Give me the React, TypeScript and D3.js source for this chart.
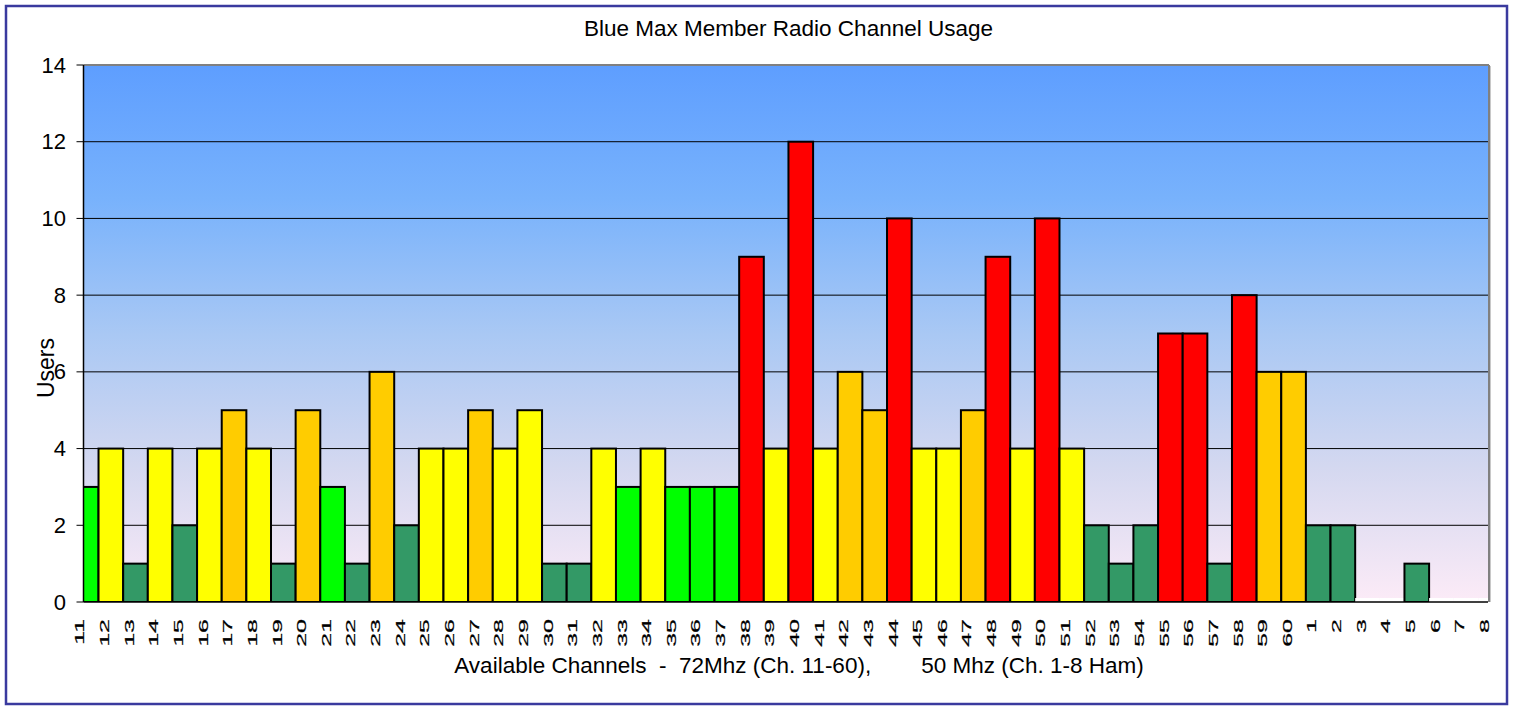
import React from "react";
import * as d3 from "d3";

const title = "Blue Max Member Radio Channel Usage";
const xTitle = "Available Channels  -  72Mhz (Ch. 11-60),        50 Mhz (Ch. 1-8 Ham)";
const yTitle = "Users";

const channels = [
  "11","12","13","14","15","16","17","18","19","20",
  "21","22","23","24","25","26","27","28","29","30",
  "31","32","33","34","35","36","37","38","39","40",
  "41","42","43","44","45","46","47","48","49","50",
  "51","52","53","54","55","56","57","58","59","60",
  "1","2","3","4","5","6","7","8",
];
const users = [
  3,4,1,4,2,4,5,4,1,5,
  3,1,6,2,4,4,5,4,5,1,
  1,4,3,4,3,3,3,9,4,12,
  4,6,5,10,4,4,5,9,4,10,
  4,2,1,2,7,7,1,8,6,6,
  2,2,0,0,1,0,0,0,
];
// usage class per channel: G = light green, Y = yellow, O = orange, R = red, D = dark green
const usageClass = [
  "G","Y","D","Y","D","Y","O","Y","D","O",
  "G","D","O","D","Y","Y","O","Y","Y","D",
  "D","Y","G","Y","G","G","G","R","Y","R",
  "Y","O","O","R","Y","Y","O","R","Y","R",
  "Y","D","D","D","R","R","D","R","O","O",
  "D","D","N","N","D","N","N","N",
];
const yTicks = [0, 2, 4, 6, 8, 10, 12, 14];

const classColor: Record<string, string> = {
  G: "#00FF00",
  Y: "#FFFF00",
  O: "#FFCC00",
  R: "#FF0000",
  D: "#339966",
  N: "#FFFFFF",
};

export default function App() {
  const W = 1514, H = 706;
  const left = 83.5, right = 1488, top = 65, bottom = 602;
  const x = d3.scalePoint<string>().domain(channels).range([left, right]);
  const step = x.step();
  const y = d3.scaleLinear().domain([0, 14]).range([bottom, top]);
  const barShift = 2.7;
  const font = "'Liberation Sans', Arial, sans-serif";

  return (
    <svg width={W} height={H} style={{ position: "absolute", left: 0, top: 0 }} fontFamily={font}>
      <defs>
        <linearGradient id="bg" x1="0" y1="0" x2="0" y2="1">
          <stop offset="0%" stopColor="#5E9EFF" />
          <stop offset="25%" stopColor="#78B2FC" />
          <stop offset="50%" stopColor="#A9C8F4" />
          <stop offset="75%" stopColor="#D4D8F0" />
          <stop offset="100%" stopColor="#FCEBF7" />
        </linearGradient>
        <clipPath id="plotClip">
          <rect x={left} y={top - 5} width={right - left} height={bottom - top + 5} />
        </clipPath>
      </defs>
      <rect x={0} y={0} width={W} height={H} fill="#fff" />
      <rect x={6} y={6} width={1501} height={698} fill="#fff" stroke="#3A3A9E" strokeWidth={2.5} />
      <text x={788.5} y={36} textAnchor="middle" fontSize={22.5} fill="#000">{title}</text>

      {/* plot area */}
      <rect x={left} y={top} width={right - left} height={bottom - top} fill="url(#bg)" />
      <line x1={left} x2={right + 1} y1={top} y2={top} stroke="#808080" strokeWidth={2} />
      <line x1={right + 1} x2={right + 1} y1={top} y2={bottom} stroke="#808080" strokeWidth={2} />
      <line x1={right + 2.5} x2={right + 2.5} y1={top + 1} y2={bottom} stroke="#C8C8C8" strokeWidth={1} />

      {yTicks.filter((t) => t > 0 && t < 14).map((t) => (
        <line key={"g" + t} x1={left} x2={right} y1={y(t)} y2={y(t)} stroke="#000" strokeWidth={1} />
      ))}

      <g clipPath="url(#plotClip)">
        {channels.map((c, i) => {
          const v = users[i];
          const x0 = (x(c) as number) - step / 2 + barShift;
          if (v === 0) {
            return <rect key={c} x={x0} y={bottom - 4} width={step} height={4} fill={classColor.N} />;
          }
          return (
            <rect
              key={c}
              x={x0}
              y={y(v)}
              width={step}
              height={y(0) - y(v)}
              fill={classColor[usageClass[i]]}
              stroke="#000"
              strokeWidth={2}
            />
          );
        })}
      </g>

      {/* axes */}
      <line x1={left} x2={left} y1={top} y2={bottom} stroke="#000" strokeWidth={1.5} />
      <line x1={left} x2={right} y1={bottom} y2={bottom} stroke="#000" strokeWidth={1.5} />
      {yTicks.map((t) => (
        <g key={"t" + t}>
          <line x1={left - 7} x2={left} y1={y(t)} y2={y(t)} stroke="#000" strokeWidth={1} />
          <text x={66} y={y(t)} textAnchor="end" dominantBaseline="central" fontSize={22} fill="#000">{t}</text>
        </g>
      ))}
      {channels.map((c) => (
        <text
          key={"l" + c}
          transform={`translate(${(x(c) as number) - 3.5},${619}) rotate(-90) scale(1,0.5)`}
          textAnchor="end"
          dominantBaseline="central"
          fontSize={25}
          fill="#000"
          stroke="#000"
          strokeWidth={0.4}
        >
          {c}
        </text>
      ))}

      <text x={799} y={673} textAnchor="middle" fontSize={22.5} fill="#000" style={{ whiteSpace: "pre" }}>{xTitle}</text>
      <text
        transform={`translate(46,368) rotate(-90)`}
        textAnchor="middle"
        dominantBaseline="central"
        fontSize={23}
        fill="#000"
      >
        {yTitle}
      </text>
    </svg>
  );
}
